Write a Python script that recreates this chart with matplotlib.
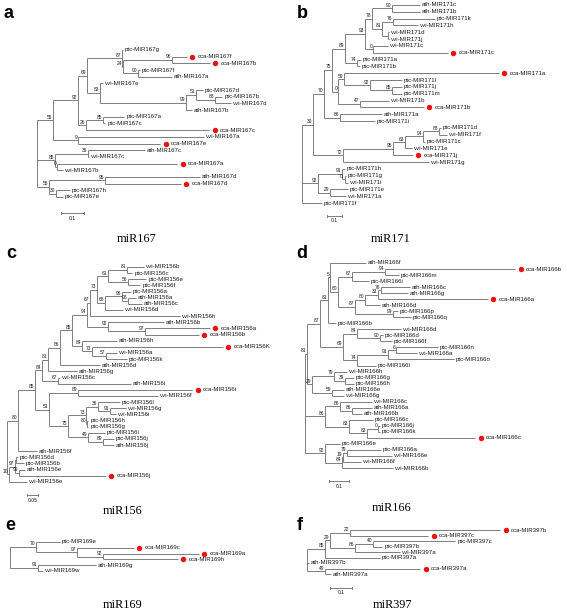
import matplotlib
matplotlib.use("Agg")
import matplotlib.pyplot as plt
from matplotlib.collections import LineCollection
from matplotlib.transforms import offset_copy

plt.rcParams['font.family'] = ['Liberation Sans', 'DejaVu Sans']

# ---------------- data: trees in Newick (branch lengths, bootstrap values) -------------
TREE_A = """
(((((ptc-MIR167g:0.004,
     ((cca-MIR167f:0.065,cca-MIR167b:0.165)96:0.213,
      (ptc-MIR167f:0.009,ath-MIR167a:0.148)90:0.065)24:0.004)87:0.152,
    (vvi-MIR167e:0.013,
     ((ptc-MIR167d:0.030,(ptc-MIR167b:0.030,vvi-MIR167d:0.070)88:0.083)51:0.043,
      ath-MIR167b:0.026)99:0.374)83:0.057)69:0.039,
   ((ptc-MIR167a:0.091,ptc-MIR167c:0.009)85:0.074,cca-MIR167c:0.535)26:0.035)92:0.109,
  (vvi-MIR167a:0.548,cca-MIR167e:0.357)9:0.109)55:0.070,
 ((ath-MIR167c:0.248,vvi-MIR167c:0.004)36:0.143,
  (cca-MIR167a:0.522,vvi-MIR167b:0.026)0:0.009)85:0.078,
 ((ath-MIR167d:0.413,cca-MIR167d:0.330)95:0.243,
  (ptc-MIR167h:0.061,ptc-MIR167e:0.030)30:0.030)55:0.052);
"""

TREE_B = """
(
 (
  (
   (
    (
     (
      (ath-MIR171c:0.187,ath-MIR171b:0.187)90:0.133,
      ((ptc-MIR171k:0.28,vvi-MIR171h:0.167)76:0.073,
       (vvi-MIR171d:0.007,vvi-MIR171j:0.007):0.04)81:0.067
     )78:0.047,
     (vvi-MIR171c:0.1,cca-MIR171c:0.5)0:0.053
    )93:0.133,
    (ptc-MIR171a:0.027,ptc-MIR171b:0.02)74:0.08
   )89:0.087,
   (
    (cca-MIR171a:1.033,
     (ptc-MIR171l:0.213,(ptc-MIR171j:0.067,ptc-MIR171m:0.067)85:0.147)92:0.173
    )59:0.04,
    (vvi-MIR171b:0.193,cca-MIR171b:0.427)47:0.147
   )0:0.04
  )75:0.053,
  (ath-MIR171a:0.28,ptc-MIR171i:0.233)86:0.107
 )70:0.073,
 (
  ((((ptc-MIR171d:0.013,vvi-MIR171f:0.053)88:0.107,ptc-MIR171c:0.013)94:0.12,
    vvi-MIR171e:0.047)63:0.08,
   cca-MIR171j:0.133)95:0.333,
  vvi-MIR171g:0.573
 )72:0.2
)30:0.073,
(
 (ptc-MIR171h:0.02,(ptc-MIR171g:0.007,vvi-MIR171i:0.02)71:0.02)91:0.16,
 (ptc-MIR171e:0.12,vvi-MIR171a:0.107)29:0.08
)92:0.107,
ptc-MIR171f:0.133);
"""
TREE_B = "(" + TREE_B.strip()  # outer root bracket

TREE_C = """
(
 (
  (
   (
    (
     (
      (
       (
        (
         (
          ((vvi-MIR156b:0.077,ptc-MIR156c:0.023)81:0.086,
           (ptc-MIR156e:0.082,ptc-MIR156f:0.055)56:0.091)61:0.05,
          ((ptc-MIR156a:0.041,(ath-MIR156a:0.036,ath-MIR156c:0.064)98:0.027)96:0.077,
           vvi-MIR156d:0.082)68:0.036
         )73:0.032,
         vvi-MIR156h:0.409
        )67:0.014,
        (ath-MIR156b:0.255,(cca-MIR156a:0.295,cca-MIR156b:0.245)97:0.168)92:0.095
       )94:0.068,
       (ath-MIR156h:0.159,
        (cca-MIR156K:0.595,(vvi-MIR156a:0.05,ptc-MIR156k:0.095)57:0.064)73:0.045)84:0.045
      )85:0.055,
      ath-MIR156d:0.182
     )86:0.055,
     ath-MIR156g:0.132
    )81:0.027,
    (vvi-MIR156c:0.009,ath-MIR156i:0.332)67:0.073
   )84:0.032,
   (
    (cca-MIR156i:0.518,vvi-MIR156f:0.364)89:0.132,
    (
     ((ptc-MIR156l:0.1,(vvi-MIR156g:0.073,vvi-MIR156i:0.027)91:0.055)36:0.055,
      (ptc-MIR156h:0.005,ptc-MIR156g:0.005)80:0.005)73:0.082,
     (ptc-MIR156i:0.077,(ptc-MIR156j:0.05,ath-MIR156j:0.05)89:0.068)49:0.091
    )75:0.086
   )51:0.064
  )85:0.077,
  ath-MIR156f:0.086
 )80:0.05,
 (
  ((ptc-MIR156d:0.009,ptc-MIR156b:0.036):0.005,
   (ath-MIR156e:0.027,cca-MIR156j:0.395)99:0.018)97:0.027,
  vvi-MIR156e:0.082
 )10:0.009
);
"""

TREE_D = """
(
 (
  (
   (
    (ath-MIR166f:0.18,
     (
      ((cca-MIR166b:0.65,ptc-MIR166m:0.07)94:0.165,ptc-MIR166i:0.085)67:0.07,
      (
       (((ath-MIR166c:0.145,ath-MIR166g:0.135)76:0.015,cca-MIR166a:0.55)33:0.065,
        ath-MIR166d:0.075)80:0.05,
       (ptc-MIR166p:0.025,ptc-MIR166q:0.09)99:0.19
      )87:0.085
     )80:0.04
    )5:0.01,
    ptc-MIR166b:0.04
   )61:0.04,
   (
    (vvi-MIR166d:0.22,(ptc-MIR166d:0.015,ptc-MIR166f:0.06)90:0.115)84:0.07,
    (((ptc-MIR166n:0.21,vvi-MIR166a:0.105)6:0.04,ptc-MIR166o:0.33)91:0.155,
     ptc-MIR166l:0.095)74:0.07
   )69:0.115
  )87:0.065,
  (
   (vvi-MIR166h:0.065,(ptc-MIR166g:0.045,ptc-MIR166h:0.045)39:0.055)79:0.11,
   (ath-MIR166e:0.06,vvi-MIR166g:0.06)59:0.1
  )29:0.025
 )81:0.01,
 (
  (vvi-MIR166c:0.16,(ath-MIR166a:0.1,ath-MIR166b:0.05)86:0.06)86:0.075,
  (ptc-MIR166c:0.12,
   ((ptc-MIR166j:0.01,ptc-MIR166k:0.01)0:0.055,cca-MIR166c:0.54)83:0.09)83:0.12
 )86:0.1,
 (ptc-MIR166e:0.075,
  (((ptc-MIR166a:0.17,vvi-MIR166e:0.225)79:0.02,vvi-MIR166f:0.09)19:0.005,
   vvi-MIR166b:0.255)84:0.085
 )92:0.1
);
"""

TREE_E = """
((ptc-MIR169e:0.16,
  (cca-MIR169c:0.38,(cca-MIR169a:0.64,cca-MIR169h:0.5)92:0.173)97:0.273)70:0.173,
 (ath-MIR169g:0.387,vvi-MIR169w:0.033)91:0.187);
"""

TREE_F = """
((((cca-MIR397b:0.682,cca-MIR397c:0.355)22:0.091,
    ((ptc-MIR397c:0.373,ptc-MIR397b:0.041)40:0.082,vvi-MIR397a:0.205)86:0.114)29:0.023,
   ptc-MIR397a:0.25)85:0.082,
 ath-MIR397b:0.009,
 (cca-MIR397a:0.432,ath-MIR397a:0.027)49:0.082);
"""

PANEL_LETTERS = ['a', 'b', 'c', 'd', 'e', 'f']
PANEL_TITLES = ['miR167', 'miR171', 'miR156', 'miR166', 'miR169', 'miR397']
SCALE_VALUES = [0.1, 0.1, 0.05, 0.1, None, 0.1]

# ---------------- layout / style --------------------------------------------------------
W, H = 567, 612
LINE_COLOR = '#7d7d7d'
TEXT_COLOR = '#1a1a1a'
RED = '#ee1111'
PX = 0.72  # points per pixel at dpi 100

# root x (px), top leaf y (px), leaf spacing (px), px per unit
PANEL_GEOM = [
    (37, 50, 6.68, 230),
    (302, 5, 6.83, 150),
    (7, 267, 6.14, 220),
    (305, 263, 6.03, 200),
    (10, 542, 5.8, 150),
    (307, 530, 5.5, 220),
]
SCALE_POS = [(61, 213), (327, 216), (27, 495), (329, 481), None, (330, 588)]
LETTER_POS = [(4, 18), (297, 18), (6, 258), (296, 258), (5, 530), (297, 530)]
TITLE_POS = [(137, 242), (391, 242), (123, 514), (392, 511), (123, 608.5), (392, 608.5)]


def parse_newick(s):
    s = ''.join(s.split()).rstrip(';')
    pos = 0

    def node():
        nonlocal pos
        children = []
        if s[pos] == '(':
            pos += 1
            while True:
                children.append(node())
                if s[pos] == ',':
                    pos += 1
                    continue
                pos += 1  # ')'
                break
        start = pos
        while pos < len(s) and s[pos] not in ':,()':
            pos += 1
        label = s[start:pos]
        length = 0.0
        if pos < len(s) and s[pos] == ':':
            pos += 1
            start = pos
            while pos < len(s) and s[pos] not in ',()':
                pos += 1
            length = float(s[start:pos])
        return {'name': label, 'len': length, 'children': children}

    return node()


def layout(node, x_parent, counter):
    node['x'] = x_parent + node['len']
    if not node['children']:
        node['y'] = counter[0]
        counter[0] += 1
    else:
        for c in node['children']:
            layout(c, node['x'], counter)
        node['y'] = 0.5 * (node['children'][0]['y'] + node['children'][-1]['y'])


def walk(node):
    yield node
    for c in node['children']:
        yield from walk(c)


fig = plt.figure(figsize=(W / 100, H / 100), dpi=100)

trees = [TREE_A, TREE_B, TREE_C, TREE_D, TREE_E, TREE_F]
for i, nwk in enumerate(trees):
    root_px, top_px, sp, ppu = PANEL_GEOM[i]
    tree = parse_newick(nwk)
    tree['len'] = 0.0
    layout(tree, 0.0, [0])

    ax = fig.add_axes([0, 0, 1, 1])
    ax.set_xlim(-root_px / ppu, (W - root_px) / ppu)
    ax.set_ylim((H - top_px) / sp, -top_px / sp)
    ax.axis('off')
    ax.patch.set_alpha(0)

    segs = []
    for n in walk(tree):
        if n['children']:
            segs.append([(n['x'], n['children'][0]['y']), (n['x'], n['children'][-1]['y'])])
            for c in n['children']:
                segs.append([(n['x'], c['y']), (c['x'], c['y'])])
    ax.add_collection(LineCollection(segs, colors=LINE_COLOR, linewidths=0.7))

    tr_leaf = offset_copy(ax.transData, fig=fig, x=2 * PX, y=0, units='points')
    tr_dot = offset_copy(ax.transData, fig=fig, x=5.5 * PX, y=0, units='points')
    tr_cca = offset_copy(ax.transData, fig=fig, x=10.5 * PX, y=0, units='points')
    tr_bs = offset_copy(ax.transData, fig=fig, x=-0.8 * PX, y=0.6 * PX, units='points')

    for n in walk(tree):
        if not n['children']:
            if n['name'].startswith('cca'):
                ax.plot([n['x']], [n['y']], 'o', ms=3.9, color=RED, mec='none',
                        transform=tr_dot, clip_on=False)
                ax.text(n['x'], n['y'], n['name'], transform=tr_cca, fontsize=4.4,
                        color=TEXT_COLOR, ha='left', va='center')
            else:
                ax.text(n['x'], n['y'], n['name'], transform=tr_leaf, fontsize=4.4,
                        color=TEXT_COLOR, ha='left', va='center')
        elif n['name']:
            ax.text(n['x'], n['y'], n['name'], transform=tr_bs, fontsize=3.5,
                    color=TEXT_COLOR, ha='right', va='bottom')

    if SCALE_VALUES[i] is not None:
        sx, sy = SCALE_POS[i]
        x0 = (sx - root_px) / ppu
        x1 = x0 + SCALE_VALUES[i]
        yy = (sy - top_px) / sp
        tick = 1.2 / sp
        ax.plot([x0, x1], [yy, yy], color=LINE_COLOR, lw=0.7)
        ax.plot([x0, x0], [yy - tick, yy + tick], color=LINE_COLOR, lw=0.7)
        ax.plot([x1, x1], [yy - tick, yy + tick], color=LINE_COLOR, lw=0.7)
        ax.text((x0 + x1) / 2, yy + 2.5 / sp, f"{SCALE_VALUES[i]:g}", fontsize=3.6,
                color=TEXT_COLOR, ha='center', va='top')

for i in range(6):
    lx, ly = LETTER_POS[i]
    fig.text(lx / W, 1 - ly / H, PANEL_LETTERS[i], fontsize=13, fontweight='bold',
             ha='left', va='baseline', color='black')
    tx, ty = TITLE_POS[i]
    fig.text(tx / W, 1 - ty / H, PANEL_TITLES[i], fontsize=8.8, family='Liberation Serif',
             ha='center', va='baseline', color='black')

fig.savefig('out.png', dpi=100)
